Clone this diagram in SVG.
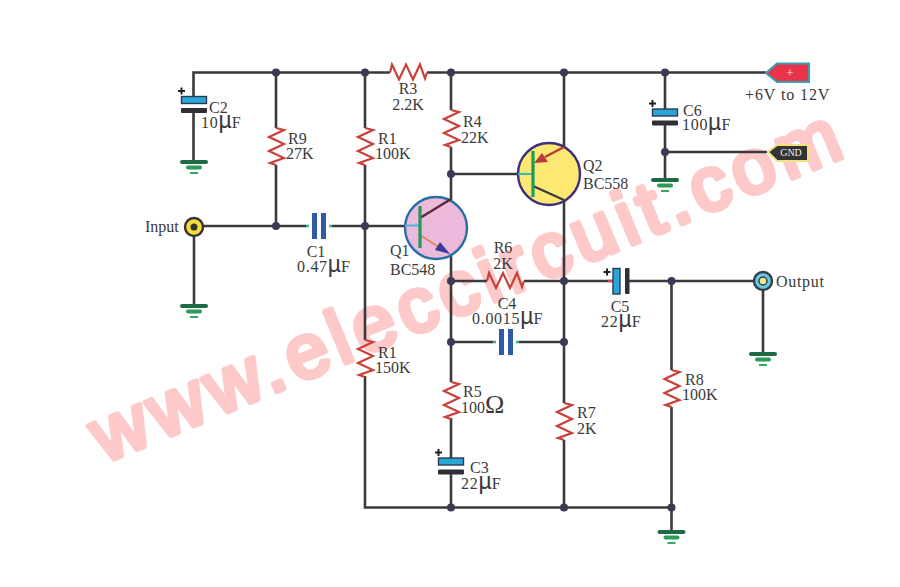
<svg xmlns="http://www.w3.org/2000/svg" width="900" height="587" viewBox="0 0 900 587">
<style>
text{font-family:"Liberation Serif","Times New Roman",serif;font-size:16px;fill:#3a3a3a}
.m{text-anchor:middle}
.u{letter-spacing:.7px}
.mu{font-family:"Liberation Sans",Arial,sans-serif;font-size:23px;letter-spacing:0}
.wm{font-family:"Liberation Sans",Arial,sans-serif;font-weight:400;font-size:76px;fill:#fdc9c9;stroke:#fdc9c9;stroke-width:5.500;stroke-linejoin:round}
.w{fill:none;stroke:#3a3a3c;stroke-width:2.6}
.res{fill:none;stroke:#c8403a;stroke-width:2.2}
.j{fill:#3a3a55}
.plus{fill:none;stroke:#222;stroke-width:2}
</style>
<defs>
<path id="zig" d="M0 0L8 2L-7 9L8 16L-7 23L8 30L-6 35L0 37" class="res"/>
<g id="gnd">
<rect x="-14" y="-2" width="28" height="4" rx="2" fill="#1d6b45"/>
<rect x="-8" y="3.500" width="16" height="4" rx="2" fill="#2d9a55"/>
<rect x="-4" y="10" width="8" height="2" fill="#3aa763"/>
</g>
<g id="capv">
<rect x="-12.500" y="-3.500" width="25" height="7" fill="#29a5d6" stroke="#2b3a55" stroke-width="1.400"/>
<rect x="-13" y="8" width="26" height="5" rx="1" fill="#2f2f38"/>
<path d="M-9 -9h-7M-12.500 -12.500v7" class="plus"/>
</g>
<g id="caph">
<path d="M-13 0h3M10 0h3" stroke="#35b58a" stroke-width="2.600"/>
<rect x="-7" y="-13" width="5" height="26" fill="#2f5aa8"/>
<rect x="2" y="-13" width="5" height="26" fill="#2f5aa8"/>
</g>
<circle id="dot" r="4" class="j"/>
</defs>

<text class="wm" transform="translate(104 463) rotate(-22.500)" textLength="803" lengthAdjust="spacing">www.eleccircuit.com</text>

<g id="connectors">
<path class="w" d="M193.500 100V72.500H390M427 72.500H766"/>
<path class="w" d="M193.500 110V162"/>
<path class="w" d="M276 72.500V128M276 165V226"/>
<path class="w" d="M365 72.500V128M365 165V340M365 376V507.500H671.500"/>
<path class="w" d="M451 72.500V110M451 147V200M451 255V382M451 418V458M451 472V507.500"/>
<path class="w" d="M564 72.500V147M564 200V403M564 440V507.500"/>
<path class="w" d="M665 72.500V109M665 122V180M665 152H767"/>
<path class="w" d="M671.500 281V370M671.500 407V532"/>
<path class="w" d="M194 226H306M332 226H405"/>
<path class="w" d="M194 227V306"/>
<path class="w" d="M451 174H518"/>
<path class="w" d="M451 281H487M524 281H613M629 281H755"/>
<path class="w" d="M451 342H493M519 342H564"/>
<path class="w" d="M763 281V354"/>
<path d="M608 281h5" stroke="#d8404a" stroke-width="2.400"/>
</g>

<g id="junctions">
<use href="#dot" x="276" y="72.500"/><use href="#dot" x="365" y="72.500"/><use href="#dot" x="451" y="72.500"/><use href="#dot" x="564" y="72.500"/><use href="#dot" x="665" y="72.500"/>
<use href="#dot" x="276" y="226"/><use href="#dot" x="365" y="226"/><use href="#dot" x="451" y="174"/><use href="#dot" x="665" y="152"/>
<use href="#dot" x="451" y="281"/><use href="#dot" x="564" y="281"/><use href="#dot" x="671.500" y="281"/><use href="#dot" x="451" y="342"/><use href="#dot" x="564" y="342"/>
<use href="#dot" x="451" y="507.500"/><use href="#dot" x="564" y="507.500"/><use href="#dot" x="671.500" y="507.500"/>
</g>

<g id="C2"><use href="#capv" x="194" y="100"/><text x="209" y="113">C2</text><text class="u" x="201" y="128">10<tspan class="mu">µ</tspan>F</text></g>
<g id="G1"><use href="#gnd" x="194" y="162"/></g>
<g id="G2"><use href="#gnd" x="194" y="306"/></g>
<g id="G3"><use href="#gnd" x="665" y="180"/></g>
<g id="G4"><use href="#gnd" x="763" y="354"/></g>
<g id="G5"><use href="#gnd" x="671.500" y="532"/></g>

<g id="R3"><use href="#zig" transform="translate(390 72.500) rotate(-90)"/><text class="m" x="408" y="94">R3</text><text class="m" x="408" y="110">2.2K</text></g>
<g id="R9"><use href="#zig" x="276" y="128"/><text x="288" y="144">R9</text><text x="286" y="159">27K</text></g>
<g id="R1a"><use href="#zig" x="365" y="128"/><text x="378" y="144">R1</text><text x="375" y="159">100K</text></g>
<g id="R4"><use href="#zig" x="451" y="110"/><text x="463" y="127">R4</text><text x="461" y="143">22K</text></g>
<g id="R1b"><use href="#zig" x="365" y="340"/><text x="378" y="358">R1</text><text x="375" y="373">150K</text></g>
<g id="R5"><use href="#zig" x="451" y="382"/><text x="463" y="397">R5</text><text x="461" y="413">100<tspan style="font-size:26px">Ω</tspan></text></g>
<g id="R6"><use href="#zig" transform="translate(487 281) rotate(-90)"/><text class="m" x="503" y="253">R6</text><text class="m" x="503" y="269">2K</text></g>
<g id="R7"><use href="#zig" x="564" y="403"/><text x="577" y="418">R7</text><text x="577" y="434">2K</text></g>
<g id="R8"><use href="#zig" x="671.500" y="370"/><text x="685" y="385">R8</text><text x="682" y="400">100K</text></g>

<g id="C1"><use href="#caph" x="319" y="226"/><text class="m" x="316" y="257">C1</text><text class="u" x="297" y="272">0.47<tspan class="mu">µ</tspan>F</text></g>
<g id="C4"><use href="#caph" x="506" y="342"/><text class="m" x="507" y="309">C4</text><text class="u" x="472" y="324">0.0015<tspan class="mu">µ</tspan>F</text></g>
<g id="C5"><rect x="613" y="268.500" width="7" height="25.500" fill="#29a5d6" stroke="#2b3a55" stroke-width="1.400"/><rect x="625" y="268" width="4.500" height="26" rx="1" fill="#2f2f38"/><path d="M603.500 272h7M607 268.500v7" class="plus"/><text class="m" x="620" y="312">C5</text><text class="u" x="601" y="327">22<tspan class="mu">µ</tspan>F</text></g>
<g id="C6"><use href="#capv" x="665" y="112.500"/><text x="683" y="116">C6</text><text class="u" x="682" y="130">100<tspan class="mu">µ</tspan>F</text></g>
<g id="C3"><use href="#capv" x="451" y="461.500"/><text x="470" y="473">C3</text><text class="u" x="461" y="489">22<tspan class="mu">µ</tspan>F</text></g>

<g id="Q1">
<circle cx="436" cy="228" r="31" fill="#ecbadb" stroke="#2a6ea8" stroke-width="2.400"/>
<path d="M405 225.500H420" stroke="#4fb4d8" stroke-width="2"/>
<path d="M420 218L451 199" stroke="#5a2a3a" stroke-width="2.400"/>
<path d="M420 235L440 248" stroke="#d98a60" stroke-width="2"/>
<path d="M450 254L435 250L440 242Z" fill="#3a3a9a"/>
<path d="M420 206V248" stroke="#1f9a5a" stroke-width="3.200"/>
<text x="390" y="256">Q1</text><text x="390" y="275">BC548</text>
</g>
<g id="Q2">
<circle cx="549" cy="174" r="31" fill="#fde873" stroke="#3d2f7c" stroke-width="2.400"/>
<path d="M518 174H533" stroke="#3fb5b5" stroke-width="2"/>
<path d="M564 147L545 157" stroke="#b83a3a" stroke-width="2.400"/>
<path d="M534 163L542 153L548 162Z" fill="#b83a3a"/>
<path d="M533 186L564 200" stroke="#3a3a3c" stroke-width="2.400"/>
<path d="M533 151V197" stroke="#1f9a5a" stroke-width="3.200"/>
<text x="583" y="171">Q2</text><text x="583" y="189">BC558</text>
</g>

<g id="Input">
<circle cx="194" cy="227" r="9" fill="#f4dc3c" stroke="#33332f" stroke-width="2.400"/>
<circle cx="194" cy="227" r="3.500" fill="#33332f"/>
<text x="145" y="232">Input</text>
</g>
<g id="Output">
<circle cx="763" cy="281" r="9" fill="#6ec9de" stroke="#2f3f4f" stroke-width="2.400"/>
<circle cx="763" cy="281" r="4" fill="#f4e88a" stroke="#2f3f4f" stroke-width="1.500"/>
<text class="u" x="776" y="287">Output</text>
</g>
<g id="VCC">
<polygon points="766,73 777,63.500 809,63.500 809,82 777,82" fill="#e8334a" stroke="#3a9fb0" stroke-width="2.200"/>
<text class="m" x="790" y="77" style="fill:#fff;font-size:12px">+</text>
<text x="745" y="100" style="letter-spacing:.9px">+6V to 12V</text>
</g>
<g id="GND">
<polygon points="768,152 777,145 808,145 808,161 777,161" fill="#333" stroke="#f0e27c" stroke-width="2"/>
<text class="m" x="791" y="156" style="fill:#eee;font-size:10px">GND</text>
</g>
</svg>
